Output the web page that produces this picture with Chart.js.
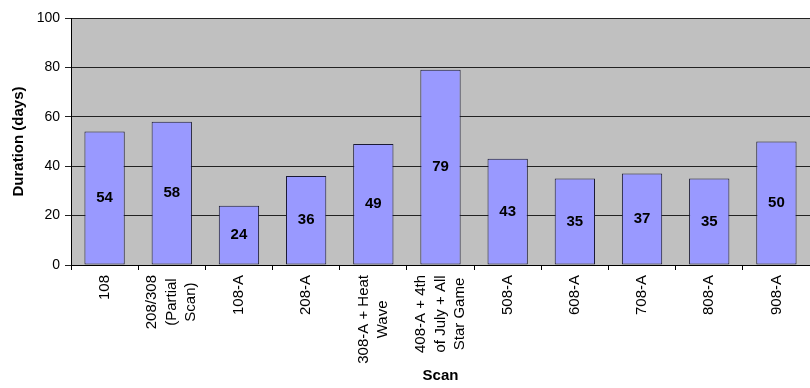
<!DOCTYPE html>
<html>
<head>
<meta charset="utf-8">
<title>Scan durations</title>
<script src="https://cdn.jsdelivr.net/npm/chart.js@4/dist/chart.umd.min.js"></script>
<style>
  html, body { margin: 0; padding: 0; background: #ffffff; }
  canvas { display: block; }
</style>
</head>
<body>
<canvas id="chart" width="810" height="388"></canvas>
<script>
// Scan names (each entry is a list of wrapped lines) and their durations in days
const scans = [
  ['108'],
  ['208/308', '(Partial', 'Scan)'],
  ['108-A'],
  ['208-A'],
  ['308-A + Heat', 'Wave'],
  ['408-A + 4th', 'of July + All', 'Star Game'],
  ['508-A'],
  ['608-A'],
  ['708-A'],
  ['808-A'],
  ['908-A']
];
const durations = [54, 58, 24, 36, 49, 79, 43, 35, 37, 35, 50];
const yTicks = [0, 20, 40, 60, 80, 100];

const FONT = "'Liberation Sans', Arial, Helvetica, sans-serif";

// Grey plot background
const plotBackground = {
  id: 'plotBackground',
  beforeDraw(chart) {
    const { ctx, chartArea: a } = chart;
    ctx.save();
    ctx.fillStyle = '#C0C0C0';
    ctx.fillRect(a.left, a.top, a.right - a.left, a.bottom - a.top);
    ctx.restore();
  }
};

// Value labels centred inside each bar
const barValues = {
  id: 'barValues',
  afterDatasetsDraw(chart) {
    const { ctx } = chart;
    const meta = chart.getDatasetMeta(0);
    const data = chart.data.datasets[0].data;
    ctx.save();
    ctx.font = 'bold 15px ' + FONT;
    ctx.fillStyle = '#000';
    ctx.textAlign = 'center';
    ctx.textBaseline = 'middle';
    meta.data.forEach((bar, i) => {
      const p = bar.getProps(['x', 'y', 'base'], true);
      ctx.fillText(String(data[i]), p.x, (p.y + p.base) / 2);
    });
    ctx.restore();
  }
};

// Vertical category labels, wrapped lines centred on each other
const verticalLabels = {
  id: 'verticalLabels',
  afterDraw(chart) {
    const { ctx } = chart;
    const xs = chart.scales.x;
    const lineGap = 19.5;
    const top = xs.top + 10;
    ctx.save();
    ctx.font = '15px ' + FONT;
    ctx.fillStyle = '#000';
    ctx.textAlign = 'center';
    ctx.textBaseline = 'middle';
    scans.forEach((lines, i) => {
      const x = xs.getPixelForValue(i);
      const w = Math.max(...lines.map(l => ctx.measureText(l).width));
      ctx.save();
      ctx.translate(x, top + w / 2);
      ctx.rotate(-Math.PI / 2);
      const n = lines.length;
      lines.forEach((l, k) => {
        ctx.fillText(l, 0, (k - (n - 1) / 2) * lineGap);
      });
      ctx.restore();
    });
    ctx.restore();
  }
};

new Chart(document.getElementById('chart'), {
  type: 'bar',
  data: {
    labels: scans,
    datasets: [{
      data: durations,
      backgroundColor: '#9999FF',
      borderColor: '#1a1a33',
      borderWidth: 1,
      borderSkipped: false,
      barPercentage: 0.6,
      categoryPercentage: 1.0
    }]
  },
  options: {
    responsive: false,
    animation: false,
    devicePixelRatio: 1,
    layout: { padding: { top: 18, right: 0, bottom: 0, left: 0 } },
    plugins: {
      legend: { display: false },
      tooltip: { enabled: false }
    },
    scales: {
      x: {
        offset: true,
        grid: {
          offset: true,
          drawOnChartArea: false,
          drawTicks: true,
          tickLength: 5,
          color: '#000'
        },
        border: { display: true, color: '#000', width: 1 },
        ticks: { display: false, autoSkip: false },
        title: {
          display: true,
          text: 'Scan',
          color: '#000',
          font: { family: FONT, size: 15, weight: 'bold' },
          padding: { top: 0, bottom: 3 }
        },
        afterFit(s) { s.height = 123; }
      },
      y: {
        min: 0,
        max: 100,
        afterBuildTicks(s) { s.ticks = yTicks.map(v => ({ value: v })); },
        grid: {
          color: '#222',
          lineWidth: 1,
          drawTicks: true,
          tickLength: 6
        },
        border: { display: true, color: '#000', width: 1 },
        ticks: {
          color: '#000',
          padding: 5,
          font: { family: FONT, size: 14 }
        },
        title: {
          display: true,
          text: 'Duration (days)',
          color: '#000',
          font: { family: FONT, size: 15, weight: 'bold' },
          padding: { top: 10, bottom: 0 }
        },
        afterFit(s) { s.width = 71; }
      }
    }
  },
  plugins: [plotBackground, barValues, verticalLabels]
});
</script>
</body>
</html>
